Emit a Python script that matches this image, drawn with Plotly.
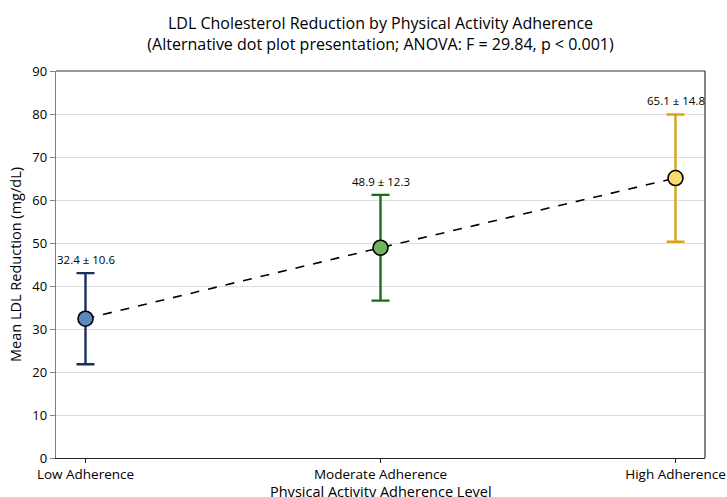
import plotly.graph_objects as go

categories = ["Low Adherence", "Moderate Adherence", "High Adherence"]
means = [32.4, 48.9, 65.1]
sds = [10.6, 12.3, 14.8]
bar_colors = ["#1b2f5e", "#1e6b1e", "#d4a514"]
fill_colors = ["#5b88bd", "#6db65a", "#f7dc6f"]
y_ticks = [0, 10, 20, 30, 40, 50, 60, 70, 80, 90]
x_title = "Physical Activity Adherence Level"
y_title = "Mean LDL Reduction (mg/dL)"

FONT = "Open Sans"
xpos = list(range(len(categories)))

fig = go.Figure()

fig.add_trace(go.Scatter(
    x=xpos, y=means, mode="lines",
    line=dict(color="black", width=1.6, dash="dash"),
    showlegend=False, hoverinfo="skip"))

for i, cat in enumerate(categories):
    fig.add_trace(go.Scatter(
        x=[xpos[i]], y=[means[i]], mode="markers", name=cat,
        marker=dict(size=15, color=fill_colors[i], line=dict(color="black", width=1.6)),
        error_y=dict(type="data", array=[sds[i]], visible=True,
                     color=bar_colors[i], thickness=2.4, width=9),
        showlegend=False))
    fig.add_annotation(
        x=xpos[i], y=means[i] + sds[i], xref="x", yref="y",
        text=f"{means[i]:.1f} ± {sds[i]:.1f}", showarrow=False,
        yanchor="bottom", yshift=4,
        font=dict(family=FONT, size=11.5, color="black"))

# x-axis title placed below the tick labels
fig.add_annotation(
    x=0.5, y=0, xref="paper", yref="paper", text=x_title, showarrow=False,
    xanchor="center", yanchor="middle", yshift=-33,
    font=dict(family=FONT, size=14.5, color="black"))

# right and top borders of the frame (dark); left axis is grey
fig.add_shape(type="line", xref="paper", yref="paper", x0=1, x1=1, y0=0, y1=1,
              line=dict(color="#333", width=1.2))
fig.add_shape(type="line", xref="paper", yref="paper", x0=0, x1=1, y0=1, y1=1,
              line=dict(color="#333", width=1.2))

fig.update_layout(
    width=727, height=497,
    margin=dict(l=56, r=22, t=71, b=39),
    paper_bgcolor="white", plot_bgcolor="white",
    font=dict(family=FONT, color="black"),
    title=dict(
        text="LDL Cholesterol Reduction by Physical Activity Adherence<br>(Alternative dot plot presentation; ANOVA: F = 29.84, p < 0.001)",
        x=(56 + 705) / 2 / 727, xanchor="center", y=0.942, yanchor="top",
        font=dict(family=FONT, size=16, color="black")),
)

fig.update_xaxes(
    range=[-0.1, 2.1], tickmode="array", tickvals=xpos, ticktext=categories,
    showgrid=False, zeroline=False,
    showline=True, linecolor="#222", linewidth=1.2, mirror=False,
    ticks="outside", ticklen=4, tickcolor="#222",
    tickfont=dict(family=FONT, size=13.5, color="black"),
    automargin=False)

fig.update_yaxes(
    range=[0, 90], tickmode="array", tickvals=y_ticks,
    showgrid=True, gridcolor="#dedede", gridwidth=1, zeroline=False,
    showline=True, linecolor="#808080", linewidth=1.4, mirror=False,
    ticks="outside", ticklen=5, tickcolor="#808080",
    tickfont=dict(family=FONT, size=13, color="black"),
    title=dict(text=y_title, standoff=7,
               font=dict(family=FONT, size=14.5, color="black")),
    automargin=False)

fig.write_html("out.html", config={"displayModeBar": False},
               post_script="document.body.style.margin='0px';")
